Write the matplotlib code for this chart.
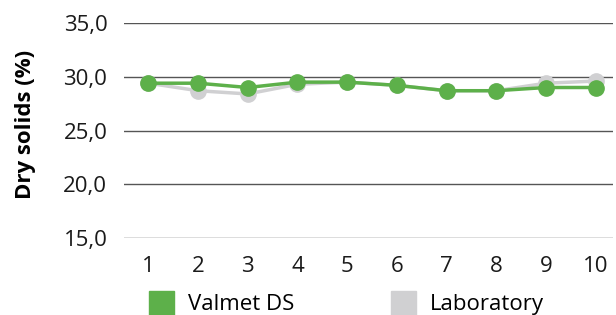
import numpy as np
import matplotlib.pyplot as plt
from matplotlib.lines import Line2D

samples = [1, 2, 3, 4, 5, 6, 7, 8, 9, 10]
valmet_ds = [29.4, 29.4, 29.0, 29.5, 29.5, 29.2, 28.7, 28.7, 29.0, 29.0]
laboratory = [29.4, 28.7, 28.4, 29.3, 29.5, 29.2, 28.7, 28.7, 29.4, 29.6]
yticks = [15, 20, 25, 30, 35]

green = '#5db04a'
grey = '#d0d0d2'

plt.rcParams['font.family'] = ['Open Sans', 'DejaVu Sans']

fig = plt.figure(figsize=(6.16, 3.15), dpi=100)
ax = fig.add_axes([124 / 616, 1 - 238 / 315, (613 - 124) / 616, (238 - 23) / 315])

ax.plot(samples, laboratory, color=grey, lw=2.5, marker='o', ms=11, zorder=3)
ax.plot(samples, valmet_ds, color=green, lw=2.5, marker='o', ms=11, zorder=4)

ax.set_xlim(0.51, 10.35)
ax.set_ylim(15, 35)
ax.set_yticks(yticks)
ax.set_yticklabels([('%.1f' % v).replace('.', ',') for v in yticks])
ax.set_xticks(samples)
ax.grid(axis='y', color='#555555', lw=1.0)
ax.set_axisbelow(True)
for s in ax.spines.values():
    s.set_visible(False)
ax.tick_params(axis='y', length=0, pad=12, labelsize=16, labelcolor='#1a1a1a')
ax.tick_params(axis='x', length=0, pad=13, labelsize=16, labelcolor='#1a1a1a')
ax.set_ylabel('Dry solids (%)', fontsize=16, fontweight='bold')
ax.yaxis.set_label_coords(-0.18, 0.53)

handles = [Line2D([], [], ls='none', marker='s', ms=18, color=green),
           Line2D([], [], ls='none', marker='s', ms=18, color=grey)]
fig.legend(handles, ['Valmet DS', 'Laboratory'], loc='lower left',
           bbox_to_anchor=(128 / 616, -0.065), ncol=2, frameon=False,
           fontsize=16, handlelength=1.2, handletextpad=0.6, columnspacing=4.3)

fig.savefig('out.png', dpi=100)
